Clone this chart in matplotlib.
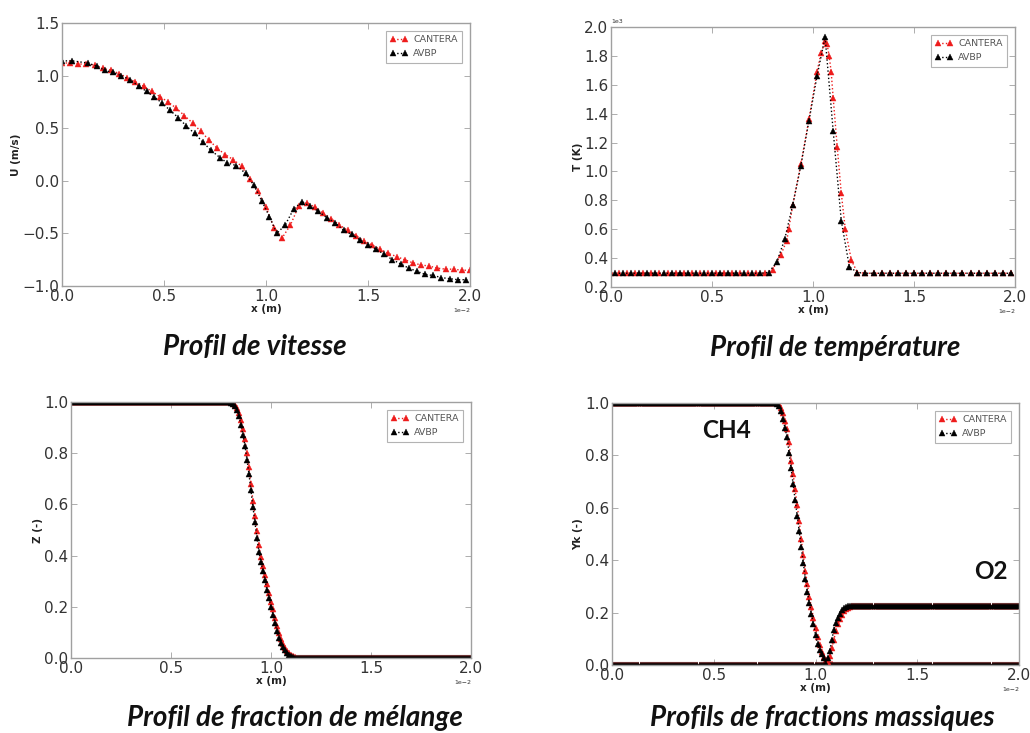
import numpy as np
import matplotlib
matplotlib.use("Agg")
import matplotlib.pyplot as plt
from matplotlib.ticker import ScalarFormatter, MultipleLocator

# ---------------- data (x in units of 1e-2 m, scaled below) ----------------
legend_labels = ["CANTERA", "AVBP"]
titles = ["Profil de vitesse", "Profil de température",
          "Profil de fraction de mélange", "Profils de fractions massiques"]
ylabels = ["U (m/s)", "T (K)", "Z (-)", "Yk (-)"]
xlabel = "x (m)"

# Velocity profile
u_x_cantera = np.arange(0, 2.0001, 0.04)
u_cantera = [1.12, 1.12, 1.11, 1.11, 1.10, 1.07, 1.05, 1.02, 0.98, 0.94,
             0.90, 0.85, 0.80, 0.75, 0.69, 0.62, 0.55, 0.47, 0.39, 0.31,
             0.25, 0.20, 0.14, 0.02, -0.10, -0.25, -0.45, -0.54, -0.42, -0.24,
             -0.21, -0.25, -0.31, -0.36, -0.42, -0.47, -0.52, -0.57, -0.61, -0.65,
             -0.69, -0.72, -0.75, -0.78, -0.80, -0.81, -0.83, -0.84, -0.84, -0.85, -0.85]
u_x_avbp = [0.0, 0.05, 0.126, 0.17, 0.21, 0.25, 0.29, 0.335, 0.375, 0.415,
            0.45, 0.49, 0.53, 0.57, 0.61, 0.65, 0.69, 0.73, 0.775, 0.81,
            0.855, 0.90, 0.94, 0.98, 1.017, 1.053, 1.094, 1.135, 1.175, 1.216,
            1.257, 1.298, 1.339, 1.38, 1.42, 1.46, 1.50, 1.54, 1.58, 1.62,
            1.66, 1.70, 1.74, 1.78, 1.82, 1.86, 1.90, 1.94, 1.98]
u_avbp = [1.14, 1.14, 1.12, 1.09, 1.05, 1.03, 1.00, 0.96, 0.90, 0.85,
          0.80, 0.74, 0.67, 0.60, 0.52, 0.45, 0.37, 0.29, 0.22, 0.17,
          0.145, 0.07, -0.04, -0.195, -0.34, -0.50, -0.42, -0.27, -0.20, -0.24,
          -0.29, -0.35, -0.40, -0.47, -0.51, -0.56, -0.61, -0.65, -0.70, -0.75,
          -0.79, -0.83, -0.86, -0.89, -0.90, -0.92, -0.93, -0.94, -0.94]

# Temperature profile (units of 1e3 K)
t_base = 0.295
t_x_cantera = list(np.arange(0, 0.761, 0.04)) + \
    [0.80, 0.84, 0.87, 0.88, 0.90, 0.94, 0.98, 1.02, 1.04, 1.06, 1.07, 1.08,
     1.09, 1.10, 1.12, 1.14, 1.16, 1.19, 1.22] + list(np.arange(1.26, 2.001, 0.04))
t_peak_cantera = [0.32, 0.42, 0.52, 0.60, 0.77, 1.05, 1.36, 1.69, 1.82, 1.90, 1.88, 1.80,
                  1.69, 1.51, 1.17, 0.85, 0.60, 0.385, 0.30]
t_x_avbp = list(np.arange(0.02, 1.99, 0.04))
t_peak_avbp = [0.30, 0.37, 0.53, 0.77, 1.04, 1.35, 1.66, 1.93, 1.28, 0.66, 0.34, 0.30]

# Mixture fraction (grid step 0.01)
grid = np.arange(0, 2.0001, 0.01)
z_cantera_front = [0.997, 0.99, 0.978, 0.958, 0.93, 0.895, 0.855, 0.80, 0.745,
                   0.68, 0.615, 0.555, 0.495, 0.44, 0.395, 0.36, 0.325, 0.29, 0.255,
                   0.22, 0.19, 0.155, 0.125, 0.097, 0.073, 0.055, 0.040, 0.028, 0.018,
                   0.011, 0.006, 0.003, 0.0015, 0.0005]   # x = 0.81 .. 1.14
z_avbp_front = [0.998, 0.993, 0.985, 0.97, 0.945, 0.91, 0.87, 0.83, 0.775, 0.72,
                0.655, 0.59, 0.53, 0.47, 0.415, 0.375, 0.34, 0.305, 0.265, 0.235,
                0.20, 0.17, 0.137, 0.105, 0.08, 0.058, 0.043, 0.031, 0.021, 0.013,
                0.008, 0.004, 0.002, 0.001]               # x = 0.80 .. 1.13

# Species mass fractions (grid step 0.01)
ch4_cantera_front = [0.995, 0.98, 0.96, 0.93, 0.90, 0.85, 0.78, 0.73,
                     0.67, 0.61, 0.55, 0.48, 0.42, 0.36, 0.31, 0.26, 0.22, 0.18,
                     0.14, 0.105, 0.075, 0.05, 0.032, 0.02, 0.011, 0.005, 0.002]  # 0.82..1.08
ch4_avbp_front = [0.998, 0.99, 0.97, 0.94, 0.905, 0.87, 0.81, 0.75, 0.69,
                  0.63, 0.57, 0.51, 0.45, 0.39, 0.33, 0.28, 0.235, 0.195, 0.155,
                  0.115, 0.08, 0.058, 0.042, 0.028, 0.012, 0.004, 0.001]       # 0.81..1.07
o2_level = 0.225
o2_cantera_front = [0.01, 0.035, 0.065, 0.095, 0.13, 0.155, 0.175, 0.19, 0.205,
                    0.213, 0.219, 0.222, 0.224]   # 1.06..1.18
o2_avbp_front = [0.005, 0.025, 0.055, 0.095, 0.135, 0.16, 0.178, 0.195, 0.21,
                 0.218, 0.222, 0.224]             # 1.05..1.16


def pad(before_val, n_before, front, after_val, total):
    return np.array([before_val] * n_before + list(front) +
                    [after_val] * (total - n_before - len(front)))


N = len(grid)
t_cantera = [t_base] * 20 + t_peak_cantera + [t_base] * (len(t_x_cantera) - 20 - len(t_peak_cantera))
t_avbp = [t_base] * 19 + t_peak_avbp + [t_base] * (len(t_x_avbp) - 19 - len(t_peak_avbp))
z_cantera = pad(1.0, 81, z_cantera_front, 0.0, N)
z_avbp = pad(1.0, 80, z_avbp_front, 0.0, N)
ch4_cantera = pad(1.0, 82, ch4_cantera_front, 0.0, N)
ch4_avbp = pad(1.0, 81, ch4_avbp_front, 0.0, N)
o2_cantera = pad(0.0, 106, o2_cantera_front, o2_level, N)
o2_avbp = pad(0.0, 105, o2_avbp_front, o2_level, N)

# ---------------- figure ----------------
fig = plt.figure(figsize=(10.30, 7.33), dpi=100)
fig.patch.set_facecolor("white")

rects = [
    [0.0602, 0.6098, 0.3961, 0.3588],
    [0.5932, 0.6085, 0.3922, 0.3547],
    [0.0689, 0.1023, 0.3883, 0.3492],
    [0.5942, 0.0928, 0.3951, 0.3574],
]
axes = [fig.add_axes(r) for r in rects]

RED = "#ee1c1c"
BLK = "#000000"
GREY = "#a0a0a0"
MS_BIG = 5.0
MS_SMALL = 4.0


def series(ax, x, y, color, ms, label=None):
    ax.plot(np.asarray(x) * 1e-2, y, linestyle=":", linewidth=1.0, color=color,
            marker="^", markersize=ms, markeredgewidth=0.3,
            markeredgecolor=color, label=label)


# Velocity
ax = axes[0]
series(ax, u_x_cantera, u_cantera, RED, MS_BIG, legend_labels[0])
series(ax, u_x_avbp, u_avbp, BLK, MS_BIG, legend_labels[1])
ax.set_ylim(-1.0, 1.5)
ax.yaxis.set_major_locator(MultipleLocator(0.5))

# Temperature
ax = axes[1]
series(ax, t_x_cantera, np.array(t_cantera) * 1e3, RED, MS_BIG, legend_labels[0])
series(ax, t_x_avbp, np.array(t_avbp) * 1e3, BLK, MS_BIG, legend_labels[1])
ax.set_ylim(200, 2000)
ax.yaxis.set_major_locator(MultipleLocator(200))

# Mixture fraction
ax = axes[2]
series(ax, grid, z_cantera, RED, MS_SMALL, legend_labels[0])
series(ax, grid, z_avbp, BLK, MS_SMALL, legend_labels[1])
ax.set_ylim(0.0, 1.0)
ax.yaxis.set_major_locator(MultipleLocator(0.2))

# Species
ax = axes[3]
series(ax, grid, ch4_cantera, RED, MS_SMALL, legend_labels[0])
series(ax, grid, ch4_avbp, BLK, MS_SMALL, legend_labels[1])
series(ax, grid, o2_cantera, RED, MS_SMALL)
series(ax, grid, o2_avbp, BLK, MS_SMALL)
ax.set_ylim(0.0, 1.0)
ax.yaxis.set_major_locator(MultipleLocator(0.2))
ax.text(0.00565, 0.895, "CH4", fontsize=17.5, fontweight="bold", family="Lato",
        ha="center", va="center", color="#111111")
ax.text(0.01862, 0.355, "O2", fontsize=17.5, fontweight="bold", family="Lato",
        ha="center", va="center", color="#111111")

for i, ax in enumerate(axes):
    ax.set_xlim(0.0, 0.02)
    ax.xaxis.set_major_locator(MultipleLocator(0.005))
    fx = ScalarFormatter(useMathText=False)
    fx.set_powerlimits((0, 0))
    ax.xaxis.set_major_formatter(fx)
    if i == 1:
        fy = ScalarFormatter(useMathText=False)
        fy.set_powerlimits((0, 0))
        ax.yaxis.set_major_formatter(fy)
    ax.yaxis.get_offset_text().set_fontsize(4.5)
    ax.yaxis.get_offset_text().set_color("#999999")
    ax.xaxis.get_offset_text().set_fontsize(4.5)
    ax.xaxis.get_offset_text().set_color("#999999")
    for sp in ax.spines.values():
        sp.set_color(GREY)
        sp.set_linewidth(1.0)
    ax.tick_params(axis="both", which="major", direction="in", length=4,
                   width=0.6, color=GREY, labelsize=11, labelcolor="#333333",
                   top=True, right=True, pad=2)
    ax.set_xlabel(xlabel, fontsize=7.5, fontweight="bold", labelpad=0, color="#222222")
    ax.set_ylabel(ylabels[i], fontsize=7.5, fontweight="bold", labelpad=1, color="#222222")
    leg = ax.legend(loc="upper right", numpoints=2, fontsize=6.8, frameon=True,
                    fancybox=False, borderpad=0.5, handlelength=1.8,
                    handletextpad=0.6, labelspacing=0.5, borderaxespad=0.8)
    leg.get_frame().set_edgecolor(GREY)
    leg.get_frame().set_linewidth(0.8)
    for txt in leg.get_texts():
        txt.set_color("#555555")

# Titles under each panel
title_pos = [(0.2476, 0.527), (0.8107, 0.525), (0.2864, 0.0205), (0.7985, 0.0205)]
for (tx, ty), t in zip(title_pos, titles):
    fig.text(tx, ty, t, fontsize=20, fontweight="bold", fontstyle="italic",
             family="Lato", ha="center", va="center", color="#111111")

fig.savefig("out.png", dpi=100, facecolor="white")
